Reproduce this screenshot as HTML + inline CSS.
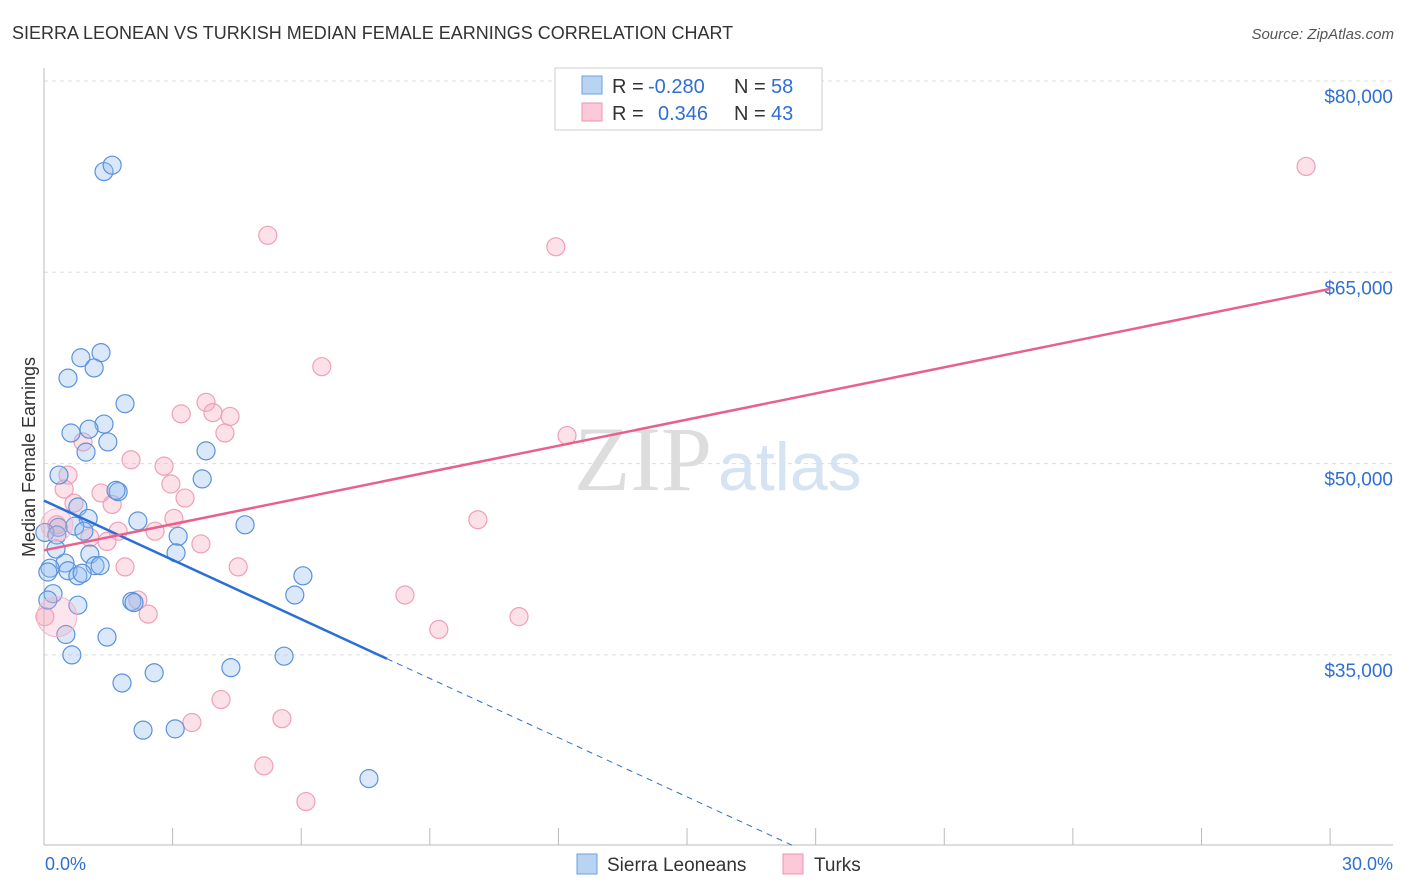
<!DOCTYPE html>
<html><head><meta charset="utf-8"><style>
body{margin:0;background:#fff;font-family:"Liberation Sans",sans-serif}
svg{display:block}
</style></head><body>
<svg id="c" width="1406" height="892">
<text x="12" y="39" font-size="18" fill="#333">SIERRA LEONEAN VS TURKISH MEDIAN FEMALE EARNINGS CORRELATION CHART</text>
<text x="1394" y="39" font-size="15" fill="#555" font-style="italic" text-anchor="end">Source: ZipAtlas.com</text>
<text x="712" y="490" font-size="92" fill="#ddd" font-family="Liberation Serif,serif" text-anchor="end">ZIP</text>
<text x="718" y="490" font-size="68" fill="#d6e3f3">atlas</text>
<text transform="translate(35,457) rotate(-90)" font-size="18" fill="#333" text-anchor="middle">Median Female Earnings</text>
<g id="grid"></g><g id="pts"></g><g id="lines"></g>
<g>
<rect x="555" y="68" width="267" height="62" fill="#fff" stroke="#ccc"/>
<rect x="582" y="76" width="20" height="18" fill="#b9d3f3" stroke="#6f9fdc"/>
<rect x="582" y="103" width="20" height="18" fill="#fbc9d8" stroke="#ee94b0"/>
<text x="612" y="93" font-size="20" fill="#333">R =</text>
<text x="648" y="93" font-size="20" fill="#2f6fd1">-0.280</text>
<text x="734" y="93" font-size="20" fill="#333">N =</text>
<text x="771" y="93" font-size="20" fill="#2f6fd1">58</text>
<text x="612" y="120" font-size="20" fill="#333">R =</text>
<text x="658" y="120" font-size="20" fill="#2f6fd1">0.346</text>
<text x="734" y="120" font-size="20" fill="#333">N =</text>
<text x="771" y="120" font-size="20" fill="#2f6fd1">43</text>
</g>
<g>
<rect x="577" y="854" width="20" height="20" fill="#b9d3f3" stroke="#6f9fdc"/>
<text x="607" y="871" font-size="19" fill="#333">Sierra Leoneans</text>
<rect x="783" y="854" width="20" height="20" fill="#fbc9d8" stroke="#ee94b0"/>
<text x="814" y="871" font-size="19" fill="#333">Turks</text>
</g>
<text x="45" y="870" font-size="18" fill="#2f6fd1">0.0%</text>
<text x="1393" y="870" font-size="18" fill="#2f6fd1" text-anchor="end">30.0%</text>
</svg>
<script>
const yTicks=[80000,65000,50000,35000];
const blueX=[1.4,1.59,1.33,0.86,1.17,0.56,1.89,1.4,0.63,1.05,1.49,0.98,3.78,0.35,1.73,1.68,3.69,0.79,1.03,2.19,0.33,0.72,0.02,0.3,0.93,3.13,4.69,0.28,1.07,3.08,0.49,0.14,1.19,1.31,0.56,0.79,0.89,0.09,6.04,5.85,0.21,0.09,0.79,2.05,2.1,0.51,1.47,0.65,5.6,4.36,2.57,1.82,2.31,3.06,7.58];
const blueY=[72900,73400,58700,58300,57500,56700,54700,53100,52400,52700,51700,50900,51000,49100,47800,47900,48800,46600,45700,45500,45000,45100,44600,44400,44700,44300,45200,43300,42900,43000,42200,41800,42000,42000,41600,41200,41400,41500,41200,39700,39800,39300,38900,39200,39100,36600,36400,35000,34900,34000,33600,32800,29100,29200,25300];
const pinkX=[29.44,5.22,11.94,6.48,3.78,3.2,3.94,4.34,4.22,0.91,12.2,2.03,0.56,2.8,0.47,2.96,1.33,0.7,1.59,3.29,10.12,3.03,2.59,1.73,1.07,1.47,3.66,0.3,1.89,4.53,8.42,2.19,2.43,11.08,9.21,0.02,4.13,3.45,5.55,5.13,6.11];
const pinkY=[73300,67900,67000,57600,54800,53900,54000,53700,52400,51700,52200,50300,49100,49800,48000,48400,47700,46900,46800,47300,45600,45700,44700,44700,44200,43900,43700,45200,41900,41900,39700,39300,38200,38000,37000,38000,31500,29700,30000,26300,23500];
const blueTrend=[[0,47100],[8,34700],[17.5,20000]];
const pinkTrend=[[0,43200],[30,63700]];
const X=v=>44+v*42.87, Y=v=>81+(80000-v)/78.41;
const ns="http://www.w3.org/2000/svg";
function mk(p,t,a){const e=document.createElementNS(ns,t);for(const k in a)e.setAttribute(k,a[k]);p.appendChild(e);return e;}
const g=document.getElementById('grid');
yTicks.forEach(v=>{
 const l=mk(g,'line',{x1:44,x2:1393,y1:Y(v),y2:Y(v),stroke:'#ddd','stroke-dasharray':'4,4'});
 
 
 const t=mk(g,'text',{x:1393,y:Y(v)+22,'font-size':19,fill:'#2f6fd1','text-anchor':'end'});
 t.textContent='$'+v.toLocaleString('en-US');
 
 
});
mk(g,'line',{x1:44,x2:44,y1:68,y2:845,stroke:'#bbb'});
mk(g,'line',{x1:44,x2:1393,y1:845,y2:845,stroke:'#bbb'});
for(let i=1;i<=10;i++){const tk=mk(g,'line',{x1:X(i*3),x2:X(i*3),y1:828,y2:845,stroke:'#bbb'});
 
 }
const P=document.getElementById('pts');
pinkX.forEach((x,i)=>{const c=mk(P,'circle',{cx:X(x),cy:Y(pinkY[i]),r:9,fill:'rgba(246,168,192,0.35)',stroke:'#eea0b8','stroke-width':1.2});
 
 });
blueX.forEach((x,i)=>{const c=mk(P,'circle',{cx:X(x),cy:Y(blueY[i]),r:9,fill:'rgba(150,190,240,0.35)',stroke:'#5a92dc','stroke-width':1.2});
 
 });
[[0.3,38000,20],[0.3,45200,16]].forEach(p=>mk(P,'circle',{cx:X(p[0]),cy:Y(p[1]),r:p[2],fill:'rgba(246,168,192,0.3)',stroke:'#f3b6c8'}));
const L=document.getElementById('lines');
const b1=mk(L,'line',{x1:X(blueTrend[0][0]),y1:Y(blueTrend[0][1]),x2:X(blueTrend[1][0]),y2:Y(blueTrend[1][1]),stroke:'#2a6fd6','stroke-width':2.5});


const b2=mk(L,'line',{x1:X(blueTrend[1][0]),y1:Y(blueTrend[1][1]),x2:X(blueTrend[2][0]),y2:Y(blueTrend[2][1]),stroke:'#2a6fd6','stroke-width':1,'stroke-dasharray':'6,5'});


const p1=mk(L,'line',{x1:X(pinkTrend[0][0]),y1:Y(pinkTrend[0][1]),x2:X(pinkTrend[1][0]),y2:Y(pinkTrend[1][1]),stroke:'#e8618c','stroke-width':2.5});


</script>
</body></html>
